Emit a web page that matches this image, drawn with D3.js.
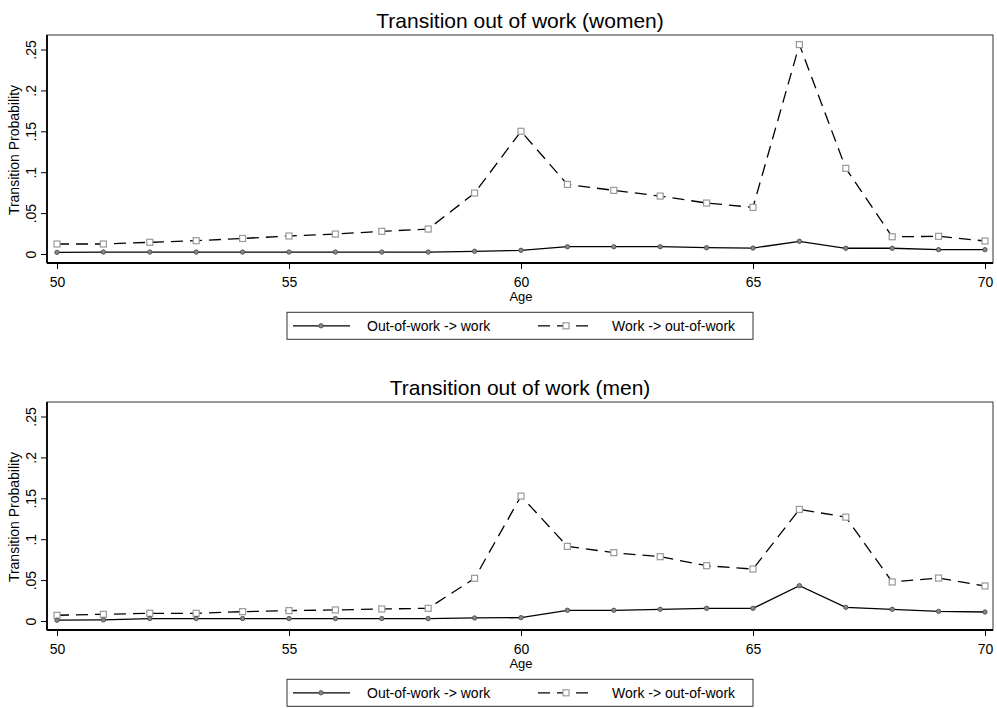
<!DOCTYPE html>
<html>
<head>
<meta charset="utf-8">
<script src="https://cdn.jsdelivr.net/npm/d3@7"></script>
<style>
  body { margin: 0; background: #fff; }
  svg { font-family: "Liberation Sans", Arial, sans-serif; }
</style>
</head>
<body>
<svg id="chart" width="997" height="708"></svg>
<script>

// data
const ages = [50, 51, 52, 53, 54, 55, 56, 57, 58, 59, 60, 61, 62, 63, 64, 65, 66, 67, 68, 69, 70];
const xTicks = [50, 55, 60, 65, 70];
const yTicks = [0, 0.05, 0.1, 0.15, 0.2, 0.25];
const yTickLabels = ["0", ".05", ".1", ".15", ".2", ".25"];

const womenOutToWork = [0.0020, 0.0024, 0.0024, 0.0024, 0.0024, 0.0024, 0.0024, 0.0024, 0.0024, 0.0033, 0.0045,
	0.0089, 0.0089, 0.0089, 0.0077, 0.0073, 0.0155, 0.0070, 0.0070, 0.0053, 0.0053];
const womenWorkToOut = [0.0122, 0.0122, 0.0143, 0.0163, 0.0190, 0.0220, 0.0244, 0.0277, 0.0305, 0.0745, 0.1500,
	0.0850, 0.0778, 0.0708, 0.0623, 0.0570, 0.2560, 0.1047, 0.0211, 0.0216, 0.0159];

const menOutToWork = [0.0010, 0.0014, 0.0030, 0.0030, 0.0030, 0.0030, 0.0030, 0.0030, 0.0030, 0.0037, 0.0041,
	0.0131, 0.0131, 0.0143, 0.0155, 0.0155, 0.0432, 0.0167, 0.0143, 0.0118, 0.0110];
const menWorkToOut = [0.0070, 0.0082, 0.0094, 0.0094, 0.0114, 0.0127, 0.0135, 0.0147, 0.0155, 0.0522, 0.1527,
	0.0912, 0.0835, 0.0786, 0.0676, 0.0635, 0.1364, 0.1270, 0.0477, 0.0525, 0.0428];

const seriesNames = ["Out-of-work -> work", "Work -> out-of-work"];

//////////////////////////////////////////////////////////////////////

const svg = d3.select("#chart");

const boxLeft = 47, boxRight = 993, boxHeight = 228;

const x = d3.scaleLinear()
	.domain([50, 70])
	.range([57, 985]);

function drawPanel(top, title, outToWork, workToOut) {

	const g = svg.append("g");
	const y = d3.scaleLinear()
		.domain([0, 0.25])
		.range([top + 219, top + 14.5]);

	// title
	g.append("text")
		.attr("x", (boxLeft + boxRight) / 2)
		.attr("y", top - 7)
		.attr("text-anchor", "middle")
		.attr("font-size", 21)
		.text(title);

	// plot box
	g.append("rect")
		.attr("x", boxLeft)
		.attr("y", top)
		.attr("width", boxRight - boxLeft)
		.attr("height", boxHeight)
		.attr("fill", "none")
		.attr("stroke", "#333")
		.attr("stroke-width", 1);

	// y axis
	const yAxis = d3.axisLeft(y)
		.tickValues(yTicks)
		.tickSize(6)
		.tickFormat((d, i) => yTickLabels[i]);
	const yg = g.append("g")
		.attr("transform", "translate(" + boxLeft + ",0)")
		.call(yAxis);
	yg.select(".domain").attr("d", "M0," + top + "V" + (top + boxHeight)).attr("stroke", "#000").attr("stroke-width", 1.8);
	yg.selectAll(".tick line").attr("stroke", "#000");
	yg.selectAll(".tick text")
		.attr("font-size", 14)
		.attr("font-family", "Liberation Sans, Arial, sans-serif")
		.attr("fill", "#000")
		.attr("x", null).attr("dy", null)
		.attr("text-anchor", "middle")
		.attr("transform", "translate(-11,0) rotate(-90)");

	g.append("text")
		.attr("transform", "translate(19," + (top + 115) + ") rotate(-90)")
		.attr("text-anchor", "middle")
		.attr("font-size", 14)
		.text("Transition Probability");

	// x axis
	const xAxis = d3.axisBottom(x)
		.tickValues(xTicks)
		.tickSize(6)
		.tickFormat(d3.format("d"));
	const xg = g.append("g")
		.attr("transform", "translate(0," + (top + boxHeight) + ")")
		.call(xAxis);
	xg.select(".domain").attr("d", "M" + boxLeft + ",0H" + boxRight).attr("stroke", "#000").attr("stroke-width", 1.8);
	xg.selectAll(".tick line").attr("stroke", "#000");
	xg.selectAll(".tick text")
		.attr("font-size", 14)
		.attr("font-family", "Liberation Sans, Arial, sans-serif")
		.attr("fill", "#000")
		.attr("y", 24).attr("dy", null);

	g.append("text")
		.attr("x", x(60))
		.attr("y", top + 265.5)
		.attr("text-anchor", "middle")
		.attr("font-size", 13)
		.text("Age");

	// lines
	const line = d3.line()
		.x((d, i) => x(ages[i]))
		.y(d => y(d));

	g.append("path")
		.datum(workToOut)
		.attr("d", line)
		.attr("fill", "none")
		.attr("stroke", "#000")
		.attr("stroke-width", 1.3)
		.attr("stroke-dasharray", "12,7");

	g.append("path")
		.datum(outToWork)
		.attr("d", line)
		.attr("fill", "none")
		.attr("stroke", "#000")
		.attr("stroke-width", 1.3);

	// markers
	g.selectAll("rect.sq")
		.data(workToOut)
		.join("rect")
		.classed("sq", true)
		.attr("x", (d, i) => x(ages[i]) - 3)
		.attr("y", d => y(d) - 3)
		.attr("width", 6)
		.attr("height", 6)
		.attr("fill", "#fff")
		.attr("stroke", "#999")
		.attr("stroke-width", 1.2);

	g.selectAll("circle.dot")
		.data(outToWork)
		.join("circle")
		.classed("dot", true)
		.attr("cx", (d, i) => x(ages[i]))
		.attr("cy", d => y(d))
		.attr("r", 2.2)
		.attr("fill", "#888")
		.attr("stroke", "#444")
		.attr("stroke-width", 0.8);

	// legend
	const legTop = top + 277.3;
	const lg = g.append("g");
	lg.append("rect")
		.attr("x", 287)
		.attr("y", legTop)
		.attr("width", 466)
		.attr("height", 27)
		.attr("fill", "none")
		.attr("stroke", "#333")
		.attr("stroke-width", 1);

	const ly = legTop + 13.5;
	lg.append("line")
		.attr("x1", 293).attr("x2", 350)
		.attr("y1", ly).attr("y2", ly)
		.attr("stroke", "#000").attr("stroke-width", 1.3);
	lg.append("circle")
		.attr("cx", 321).attr("cy", ly).attr("r", 2.2)
		.attr("fill", "#888").attr("stroke", "#444").attr("stroke-width", 0.8);
	lg.append("text")
		.attr("x", 367).attr("y", ly + 5)
		.attr("font-size", 14)
		.text(seriesNames[0]);

	lg.append("line")
		.attr("x1", 538).attr("x2", 595)
		.attr("y1", ly).attr("y2", ly)
		.attr("stroke", "#000").attr("stroke-width", 1.3)
		.attr("stroke-dasharray", "12,7");
	lg.append("rect")
		.attr("x", 563).attr("y", ly - 3).attr("width", 6).attr("height", 6)
		.attr("fill", "#fff").attr("stroke", "#999").attr("stroke-width", 1.2);
	lg.append("text")
		.attr("x", 612).attr("y", ly + 5)
		.attr("font-size", 14)
		.text(seriesNames[1]);
}

drawPanel(35, "Transition out of work (women)", womenOutToWork, womenWorkToOut);
drawPanel(402, "Transition out of work (men)", menOutToWork, menWorkToOut);

</script>
</body>
</html>
